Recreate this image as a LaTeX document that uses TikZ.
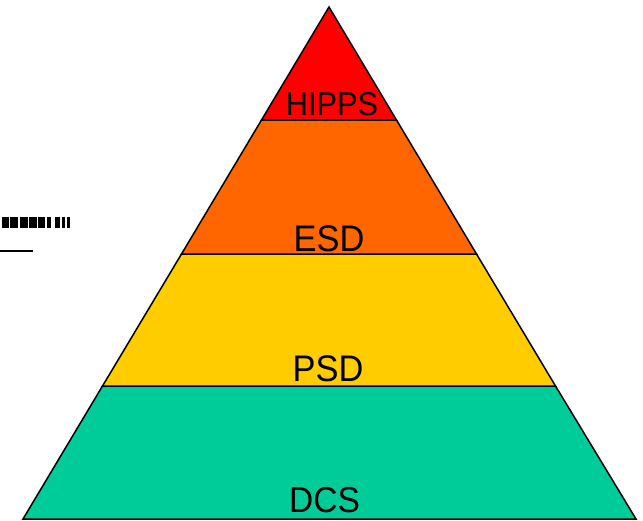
\documentclass[tikz,border=0pt]{standalone}
\usepackage{fontspec}
\setmainfont{Liberation Sans}
\definecolor{hippsred}{HTML}{FF0000}
\definecolor{esdorange}{HTML}{FF6600}
\definecolor{psdyellow}{HTML}{FFCC00}
\definecolor{dcsgreen}{HTML}{00CC99}
\begin{document}
\begin{tikzpicture}[x=1pt,y=-1pt,
  band/.style={draw=black,line width=1.5pt,line join=miter},
  lbl/.style={anchor=base,inner sep=0pt,text depth=0pt,text=black,xscale=0.93,transform shape},
  glyph/.style={fill=black,draw=none}]
\useasboundingbox (0,0) rectangle (643,520);
% pyramid layers, bottom to top
\coordinate (apex) at (329,7);
\coordinate (bl) at (23,519);
\coordinate (br) at (636,519);
\path[band,fill=dcsgreen] (102.5,386) -- (555.5,386) -- (br) -- (bl) -- cycle;
\path[band,fill=psdyellow] (181.5,254) -- (476.5,254) -- (555.5,386) -- (102.5,386) -- cycle;
\path[band,fill=esdorange] (261.5,120) -- (396.5,120) -- (476.5,254) -- (181.5,254) -- cycle;
\path[band,fill=hippsred] (apex) -- (396.5,120) -- (261.5,120) -- cycle;
% layer labels
\node[lbl,font=\fontsize{33}{33}\selectfont] (hipps) at (332,115) {HIPPS};
\node[lbl,font=\fontsize{37}{37}\selectfont] (esd) at (329,251) {ESD};
\node[lbl,font=\fontsize{37}{37}\selectfont] (psd) at (328,381) {PSD};
\node[lbl,font=\fontsize{36}{36}\selectfont] (dcs) at (324.5,512) {DCS};
% small legend mark on the left
\foreach \a/\b in {2/9,10/18,20/28,29/37,38/45,47/51,55/60,62/65,67/70}
  \fill[glyph] (\a,216.5) rectangle (\b,227.5);
\draw[line width=2pt] (0,251) -- (33,251);
\end{tikzpicture}
\end{document}
